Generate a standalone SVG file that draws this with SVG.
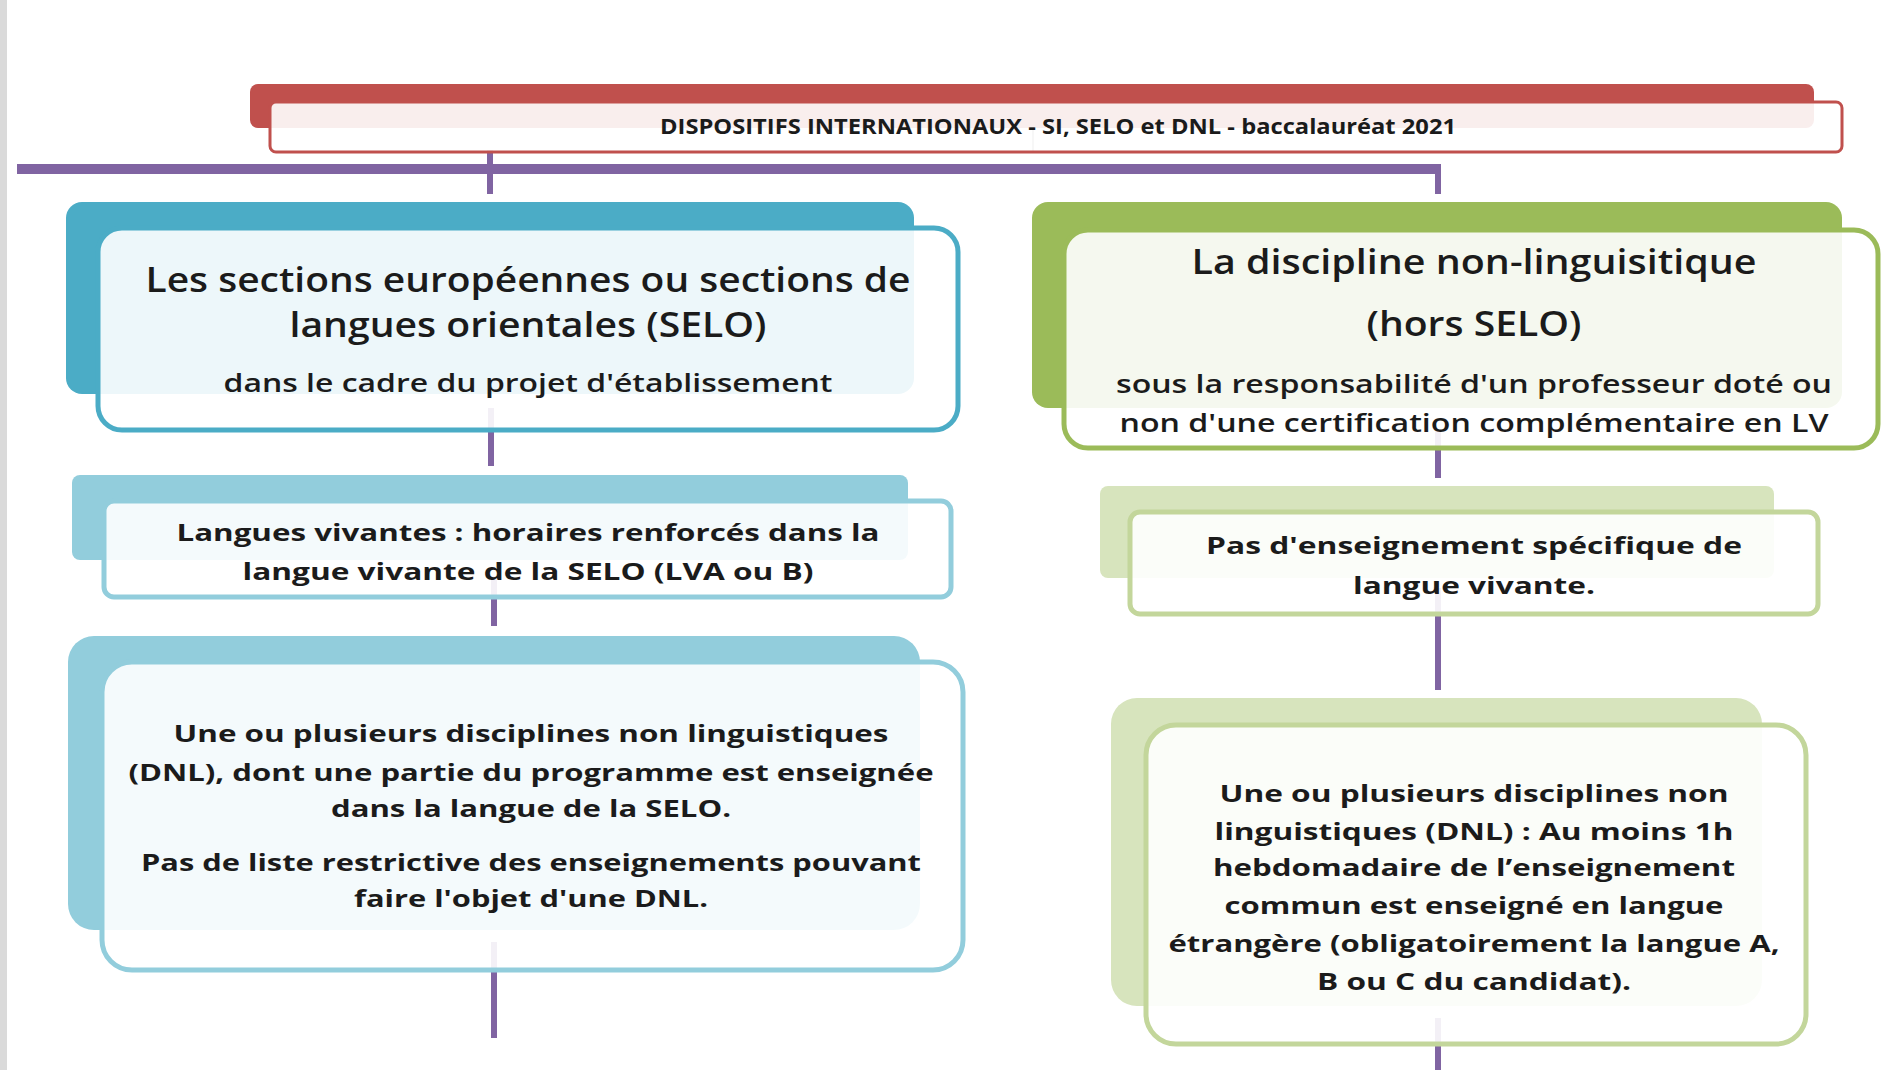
<svg xmlns="http://www.w3.org/2000/svg" width="1881" height="1070" viewBox="0 0 1881 1070">
<style>
text{font-family:"Open Sans","Liberation Sans",sans-serif;fill:#1b1b1b;text-anchor:middle}
.h{font-size:35px;font-weight:600}
.s{font-size:25px;font-weight:600}
.b{font-size:24px;font-weight:bold}
.t{font-size:21px;font-weight:bold}
.fr{fill:#fff;fill-opacity:.9}
.c{stroke:#8064A2;stroke-width:6;fill:none}
</style>
<rect x="0" y="0" width="7" height="1070" fill="#DADADA"/>
<g id="connectors">
<line x1="1033" y1="128" x2="1033" y2="152" stroke="#b0a8a8" stroke-width="2"/>
<line x1="17" y1="169" x2="1441" y2="169" stroke="#8064A2" stroke-width="10"/>
<line class="c" x1="490" y1="150" x2="490" y2="194"/>
<line class="c" x1="1438" y1="169" x2="1438" y2="194"/>
<line class="c" x1="491" y1="408" x2="491" y2="466"/>
<line class="c" x1="494" y1="576" x2="494" y2="626"/>
<line class="c" x1="494" y1="942" x2="494" y2="1038"/>
<line class="c" x1="1438" y1="430" x2="1438" y2="478"/>
<line class="c" x1="1438" y1="588" x2="1438" y2="690"/>
<line class="c" x1="1438" y1="1018" x2="1438" y2="1070"/>
</g>
<g id="title">
<rect x="250" y="84" width="1564" height="44" rx="8" fill="#C0504D"/>
<rect class="fr" x="270" y="102" width="1572" height="50" rx="6" stroke="#C0504D" stroke-width="3"/>
<text class="t" x="1058" y="134" textLength="796" lengthAdjust="spacingAndGlyphs">DISPOSITIFS INTERNATIONAUX - SI, SELO et DNL - baccalauréat 2021</text>
</g>
<g id="selo">
<rect x="66" y="202" width="848" height="192" rx="16" fill="#4BACC6"/>
<rect class="fr" x="98" y="228" width="860" height="202" rx="24" stroke="#4BACC6" stroke-width="5"/>
<text class="h" x="528" y="292" textLength="765" lengthAdjust="spacingAndGlyphs">Les sections européennes ou sections de</text>
<text class="h" x="528" y="337" textLength="477" lengthAdjust="spacingAndGlyphs">langues orientales (SELO)</text>
<text class="s" x="528" y="392" textLength="609" lengthAdjust="spacingAndGlyphs">dans le cadre du projet d'établissement</text>
</g>
<g id="selo-lv">
<rect x="72" y="475" width="836" height="85" rx="8" fill="#92CDDC"/>
<rect class="fr" x="104" y="501" width="847" height="96" rx="10" stroke="#92CDDC" stroke-width="5"/>
<text class="b" x="528" y="541" textLength="703" lengthAdjust="spacingAndGlyphs">Langues vivantes : horaires renforcés dans la</text>
<text class="b" x="528" y="580" textLength="571" lengthAdjust="spacingAndGlyphs">langue vivante de la SELO (LVA ou B)</text>
</g>
<g id="selo-dnl">
<rect x="68" y="636" width="852" height="294" rx="26" fill="#92CDDC"/>
<rect class="fr" x="102" y="662" width="861" height="308" rx="30" stroke="#92CDDC" stroke-width="5"/>
<text class="b" x="531" y="742" textLength="715" lengthAdjust="spacingAndGlyphs">Une ou plusieurs disciplines non linguistiques</text>
<text class="b" x="531" y="781" textLength="805" lengthAdjust="spacingAndGlyphs">(DNL), dont une partie du programme est enseignée</text>
<text class="b" x="531" y="817" textLength="400" lengthAdjust="spacingAndGlyphs">dans la langue de la SELO.</text>
<text class="b" x="531" y="871" textLength="780" lengthAdjust="spacingAndGlyphs">Pas de liste restrictive des enseignements pouvant</text>
<text class="b" x="531" y="907" textLength="354" lengthAdjust="spacingAndGlyphs">faire l'objet d'une DNL.</text>
</g>
<g id="dnl">
<rect x="1032" y="202" width="810" height="206" rx="16" fill="#9BBB59"/>
<rect class="fr" x="1064" y="230" width="814" height="218" rx="24" stroke="#9BBB59" stroke-width="5"/>
<text class="h" x="1474" y="274" textLength="565" lengthAdjust="spacingAndGlyphs">La discipline non-linguisitique</text>
<text class="h" x="1474" y="336" textLength="215" lengthAdjust="spacingAndGlyphs">(hors SELO)</text>
<text class="s" x="1474" y="393" textLength="716" lengthAdjust="spacingAndGlyphs">sous la responsabilité d'un professeur doté ou</text>
<text class="s" x="1474" y="432" textLength="709" lengthAdjust="spacingAndGlyphs">non d'une certification complémentaire en LV</text>
</g>
<g id="dnl-lv">
<rect x="1100" y="486" width="674" height="92" rx="8" fill="#D7E4BD"/>
<rect class="fr" x="1130" y="512" width="688" height="102" rx="10" stroke="#C3D69B" stroke-width="5"/>
<text class="b" x="1474" y="554" textLength="536" lengthAdjust="spacingAndGlyphs">Pas d'enseignement spécifique de</text>
<text class="b" x="1474" y="594" textLength="242" lengthAdjust="spacingAndGlyphs">langue vivante.</text>
</g>
<g id="dnl-dnl">
<rect x="1111" y="698" width="651" height="308" rx="26" fill="#D7E4BD"/>
<rect class="fr" x="1146" y="725" width="660" height="319" rx="30" stroke="#C3D69B" stroke-width="5"/>
<text class="b" x="1474" y="802" textLength="509" lengthAdjust="spacingAndGlyphs">Une ou plusieurs disciplines non</text>
<text class="b" x="1474" y="840" textLength="519" lengthAdjust="spacingAndGlyphs">linguistiques (DNL) : Au moins 1h</text>
<text class="b" x="1474" y="876" textLength="522" lengthAdjust="spacingAndGlyphs">hebdomadaire de l’enseignement</text>
<text class="b" x="1474" y="914" textLength="499" lengthAdjust="spacingAndGlyphs">commun est enseigné en langue</text>
<text class="b" x="1474" y="952" textLength="611" lengthAdjust="spacingAndGlyphs">étrangère (obligatoirement la langue A,</text>
<text class="b" x="1474" y="990" textLength="314" lengthAdjust="spacingAndGlyphs">B ou C du candidat).</text>
</g>
</svg>
